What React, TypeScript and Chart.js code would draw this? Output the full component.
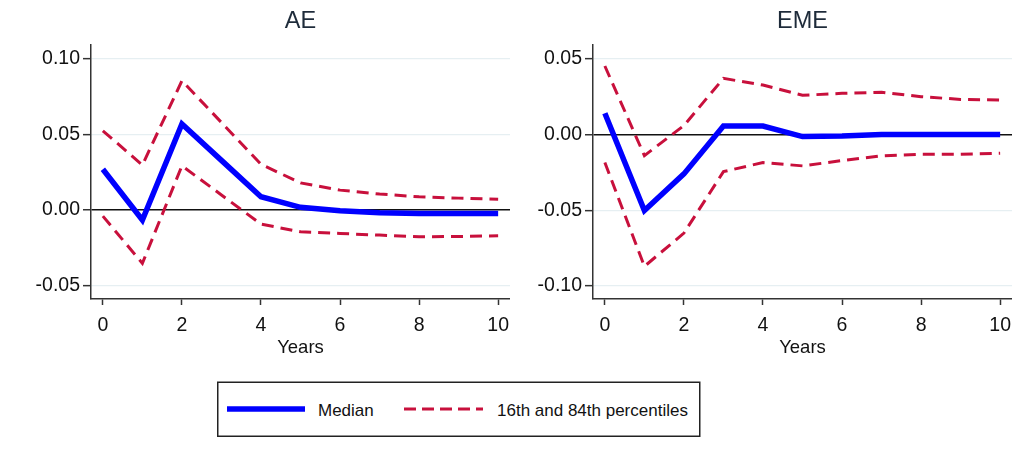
import React, { useEffect, useRef } from 'react';
import { Chart, registerables } from 'chart.js';

Chart.register(...registerables);

const years = [0, 1, 2, 3, 4, 5, 6, 7, 8, 9, 10];
const xTicks = [0, 2, 4, 6, 8, 10];

const aeMedian = [0.027, -0.0066, 0.057, 0.0329, 0.0088, 0.0018, -0.0005, -0.0018, -0.0022, -0.0022, -0.0022];
const aeUpper = [0.0525, 0.0298, 0.0856, 0.058, 0.0303, 0.018, 0.0132, 0.0106, 0.0088, 0.0079, 0.0071];
const aeLower = [-0.004, -0.0353, 0.0293, 0.01, -0.0093, -0.0144, -0.0155, -0.0166, -0.0177, -0.0175, -0.017];
const aeTicks = [-0.05, 0, 0.05, 0.1];

const emeMedian = [0.0141, -0.0502, -0.026, 0.0057, 0.0057, -0.0013, -0.001, 0, 0, 0, 0];
const emeUpper = [0.0454, -0.0139, 0.006, 0.0372, 0.0328, 0.026, 0.0273, 0.028, 0.0251, 0.0233, 0.0229];
const emeLower = [-0.0185, -0.0872, -0.0652, -0.0245, -0.0185, -0.0207, -0.0172, -0.0141, -0.013, -0.013, -0.0123];
const emeTicks = [-0.1, -0.05, 0, 0.05];

const legendLabels = ['Median', '16th and 84th percentiles'];

const BLUE = '#0000ff';
const RED = '#c8103c';
const AXIS = '#333333';
const GRID = '#e6eff2';
const TEXT = '#111111';
const TITLE = '#1e2b3a';
const FONT = "'Liberation Sans', Arial, sans-serif";

type PanelProps = {
  title: string;
  median: number[];
  upper: number[];
  lower: number[];
  yMin: number;
  yMax: number;
  yTicks: number[];
  yWidth: number;
  left: number;
  width: number;
  height: number;
};

function Panel(p: PanelProps) {
  const ref = useRef<HTMLCanvasElement>(null);
  useEffect(() => {
    const pts = (arr: number[]) => years.map((x, i) => ({ x, y: arr[i] }));
    const chart = new Chart(ref.current!, {
      type: 'line',
      data: {
        datasets: [
          { data: pts(p.upper), borderColor: RED, borderWidth: 3, borderDash: [12, 7], pointRadius: 0, tension: 0, fill: false },
          { data: pts(p.lower), borderColor: RED, borderWidth: 3, borderDash: [12, 7], pointRadius: 0, tension: 0, fill: false },
          { data: pts(p.median), borderColor: BLUE, borderWidth: 5.5, pointRadius: 0, tension: 0, fill: false, borderJoinStyle: 'miter' },
        ],
      },
      options: {
        responsive: false,
        animation: false,
        layout: { padding: 0 },
        plugins: {
          legend: { display: false },
          tooltip: { enabled: false },
          title: {
            display: true,
            text: p.title,
            fullSize: false,
            color: TITLE,
            font: { family: FONT, size: 23.5, weight: 'normal', lineHeight: 1.2 },
            padding: { top: 7.7, bottom: 9.1 },
          },
        },
        scales: {
          x: {
            type: 'linear',
            min: -0.3,
            max: 10.3,
            afterBuildTicks: (s: any) => {
              s.ticks = xTicks.map((v) => ({ value: v }));
            },
            afterFit: (s: any) => {
              s.height = p.height - 299;
              s.paddingLeft = 0;
              s.paddingRight = 0;
            },
            grid: { drawOnChartArea: false, drawTicks: true, tickLength: 6, tickColor: AXIS, tickWidth: 1.5 },
            border: { color: AXIS, width: 1.5 },
            ticks: {
              font: { family: FONT, size: 19.5, lineHeight: 1.2 },
              color: TEXT,
              padding: 9,
              maxRotation: 0,
              autoSkip: false,
              callback: (v: any) => String(v),
            },
            title: {
              display: true,
              text: 'Years',
              color: TEXT,
              font: { family: FONT, size: 18.5, lineHeight: 1.2 },
              padding: { top: 0, bottom: 11.4 },
            },
          },
          y: {
            type: 'linear',
            min: p.yMin,
            max: p.yMax,
            afterBuildTicks: (s: any) => {
              s.ticks = p.yTicks.map((v) => ({ value: v }));
            },
            afterFit: (s: any) => {
              s.width = p.yWidth;
              s.paddingTop = 0;
              s.paddingBottom = 0;
            },
            grid: {
              color: (c: any) => (c.tick && Math.abs(c.tick.value) < 1e-9 ? '#111111' : GRID),
              lineWidth: (c: any) => (c.tick && Math.abs(c.tick.value) < 1e-9 ? 1.5 : 1.3),
              tickColor: AXIS,
              tickLength: 8,
              tickWidth: 1.5,
            },
            border: { color: AXIS, width: 1.5 },
            ticks: {
              font: { family: FONT, size: 19.5 },
              color: TEXT,
              padding: 3,
              callback: (v: any) => Number(v).toFixed(2),
            },
          },
        },
      },
    } as any);
    return () => chart.destroy();
  }, []);
  return (
    <canvas
      ref={ref}
      width={p.width}
      height={p.height}
      style={{ position: 'absolute', left: p.left, top: 0, width: p.width, height: p.height }}
    />
  );
}

function Legend() {
  return (
    <svg
      width={485}
      height={57}
      style={{ position: 'absolute', left: 216, top: 381 }}
    >
      <rect x={1.75} y={1.25} width={482} height={54} fill="white" stroke="#222" strokeWidth={1.5} />
      <line x1={11} y1={28} x2={89} y2={28} stroke={BLUE} strokeWidth={5.5} />
      <text x={102} y={29} fontFamily={FONT} fontSize={17} fill={TEXT} dominantBaseline="central">
        {legendLabels[0]}
      </text>
      <line x1={188} y1={28} x2={267} y2={28} stroke={RED} strokeWidth={3} strokeDasharray="12 6" />
      <text x={281} y={29} fontFamily={FONT} fontSize={17} fill={TEXT} dominantBaseline="central">
        {legendLabels[1]}
      </text>
    </svg>
  );
}

export default function App() {
  return (
    <div style={{ position: 'absolute', left: 0, top: 0, width: 1017, height: 450, background: 'white', overflow: 'hidden' }}>
      <Panel title="AE" median={aeMedian} upper={aeUpper} lower={aeLower} yMin={-0.0589} yMax={0.1093} yTicks={aeTicks} yWidth={91} left={0} width={510} height={370} />
      <Panel title="EME" median={emeMedian} upper={emeUpper} lower={emeLower} yMin={-0.1088} yMax={0.0593} yTicks={emeTicks} yWidth={87} left={506} width={506} height={370} />
      <Legend />
    </div>
  );
}
